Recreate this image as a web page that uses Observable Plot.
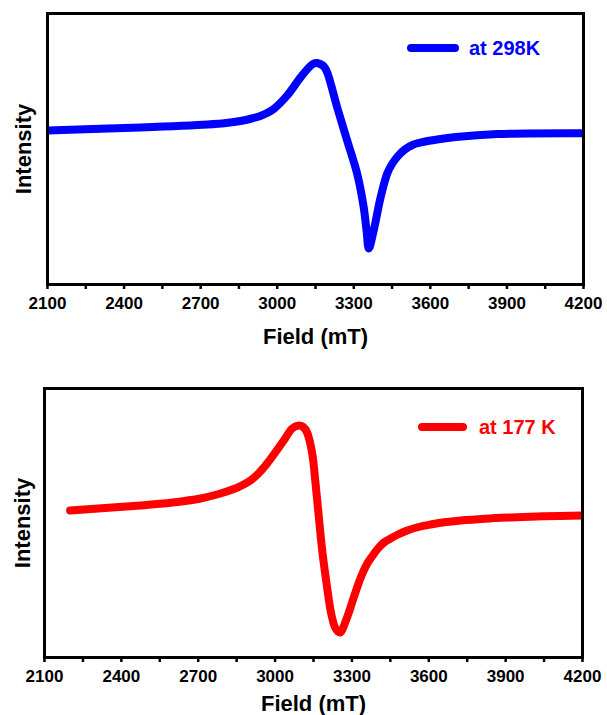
<!DOCTYPE html>
<html>
<head>
<meta charset="utf-8">
<script src="https://cdn.jsdelivr.net/npm/d3@7"></script>
<script src="https://cdn.jsdelivr.net/npm/@observablehq/plot@0.6"></script>
<style>
  html, body { margin: 0; padding: 0; background: #fff; }
  #wrap { position: relative; width: 607px; height: 715px; overflow: hidden; font-family: "Liberation Sans", Arial, sans-serif; font-weight: bold; }
  #wrap svg { display: block; }
  .leg-line { position: absolute; height: 8px; border-radius: 4px; }
  .leg-text { position: absolute; font-size: 20px; line-height: 20px; white-space: nowrap; }
</style>
</head>
<body>
<div id="wrap"></div>
<script>
// ---- data ----
const field298 = [2100, 2464, 2727, 2800, 2856, 2900, 2934, 2960, 2987, 3039, 3091, 3124, 3140, 3154, 3168, 3183, 3196, 3235, 3274, 3313, 3339, 3350, 3359, 3378, 3405, 3431, 3450, 3470, 3500, 3534, 3580, 3640, 3700, 3863, 4200];
const intensity298 = [0.00, 0.03, 0.06, 0.075, 0.095, 0.12, 0.145, 0.175, 0.217, 0.35, 0.53, 0.63, 0.665, 0.675, 0.665, 0.64, 0.58, 0.23, -0.10, -0.43, -0.77, -1.00, -1.18, -1.00, -0.67, -0.43, -0.335, -0.265, -0.19, -0.14, -0.11, -0.085, -0.065, -0.035, -0.027];

const field177 = [2200, 2475, 2600, 2709, 2780, 2839, 2870, 2904, 2935, 2969, 3034, 3067, 3093, 3110, 3125, 3145, 3158, 3171, 3184, 3201, 3219, 3236, 3253, 3281, 3307, 3333, 3360, 3380, 3400, 3425, 3451, 3480, 3516, 3560, 3607, 3660, 3724, 3820, 3919, 4050, 4200];
const intensity177 = [0.00, 0.05, 0.08, 0.12, 0.165, 0.215, 0.25, 0.30, 0.37, 0.47, 0.70, 0.82, 0.85, 0.835, 0.78, 0.57, 0.27, -0.07, -0.40, -0.73, -1.03, -1.18, -1.22, -1.07, -0.87, -0.68, -0.53, -0.455, -0.385, -0.32, -0.28, -0.24, -0.20, -0.165, -0.14, -0.118, -0.10, -0.082, -0.07, -0.058, -0.05];

const xTickLabels = [2100, 2400, 2700, 3000, 3300, 3600, 3900, 4200];
const xTicksAll = [2100, 2250, 2400, 2550, 2700, 2850, 3000, 3150, 3300, 3450, 3600, 3750, 3900, 4050, 4200];
const legend298 = "at 298K";
const legend177 = "at 177 K";
const xLabel = "Field (mT)";
const yLabel = "Intensity";

const FONT = "'Liberation Sans', Arial, sans-serif";

function panel(o) {
  const data = o.fields.map((f, i) => ({field: f, intensity: o.values[i]}));
  return Plot.plot({
    width: 607,
    height: o.height,
    marginTop: o.marginTop,
    marginBottom: o.marginBottom,
    marginLeft: o.marginLeft,
    marginRight: o.marginRight,
    style: {fontFamily: FONT, fontWeight: "bold", fontSize: "17px", color: "#000", background: "#fff", overflow: "visible"},
    x: {domain: [2100, 4200]},
    y: {domain: o.yDomain, axis: null},
    marks: [
      Plot.line(data, {x: "field", y: "intensity", stroke: o.color, strokeWidth: 8, curve: "catmull-rom", strokeLinecap: "round", strokeLinejoin: "round", clip: true}),
      Plot.axisX({ticks: xTicksAll, tickSize: 5, tickPadding: 7, strokeWidth: 2.5,
        tickFormat: d => xTickLabels.includes(d) ? String(d) : "", label: null, fontSize: 17, fontWeight: "bold"}),
      Plot.frame({stroke: "#000", strokeWidth: 3}),
      Plot.text([xLabel], {frameAnchor: "bottom", dy: o.xLabelDy, lineAnchor: "middle", textAnchor: "middle", fontSize: 22, fontWeight: "bold"}),
      Plot.text([yLabel], {frameAnchor: "left", dx: o.yLabelDx, rotate: -90, lineAnchor: "middle", textAnchor: "middle", fontSize: 22, fontWeight: "bold"})
    ]
  });
}

const wrap = document.getElementById("wrap");

wrap.appendChild(panel({
  fields: field298, values: intensity298, color: "#0000ff",
  height: 352, marginTop: 13, marginBottom: 68, marginLeft: 47, marginRight: 24,
  yDomain: [-1.54, 1.17], xLabelDy: 52, yLabelDx: -24
}));

wrap.appendChild(panel({
  fields: field177, values: intensity177, color: "#ff0000",
  height: 363, marginTop: 36, marginBottom: 58, marginLeft: 44, marginRight: 25,
  yDomain: [-1.47, 1.22], xLabelDy: 46, yLabelDx: -22
}));

function legend(text, color, lineLeft, lineWidth, cy, textLeft) {
  const l = document.createElement("div");
  l.className = "leg-line";
  l.style.left = lineLeft + "px";
  l.style.width = lineWidth + "px";
  l.style.top = (cy - 4) + "px";
  l.style.background = color;
  wrap.appendChild(l);
  const t = document.createElement("div");
  t.className = "leg-text";
  t.style.left = textLeft + "px";
  t.style.top = (cy - 9.8) + "px";
  t.style.color = color;
  t.textContent = text;
  wrap.appendChild(t);
}
legend(legend298, "#0000ff", 407, 52, 48, 469);
legend(legend177, "#ff0000", 418, 49, 427, 479);
</script>
</body>
</html>
